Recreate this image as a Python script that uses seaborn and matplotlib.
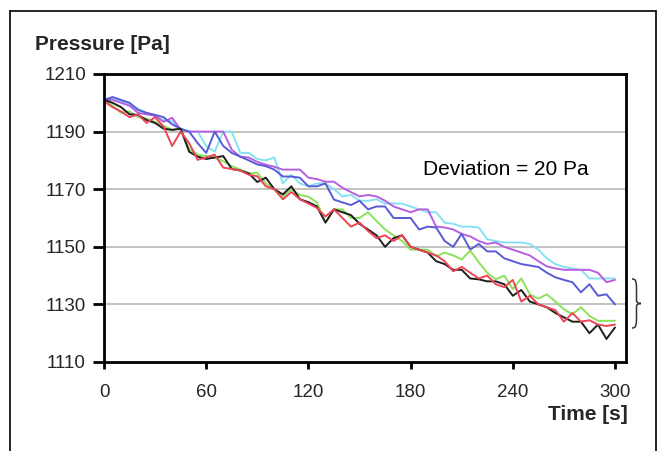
import matplotlib
matplotlib.use("Agg")
import matplotlib.pyplot as plt
import seaborn as sns
import pandas as pd
from matplotlib.lines import Line2D
from matplotlib.path import Path
from matplotlib.patches import PathPatch

sns.set_theme(style="white")
plt.rcParams['font.family'] = ['Liberation Sans', 'DejaVu Sans']

time_s = list(range(0, 301, 5))

cyan = [1201, 1201.5, 1200.5, 1199.5, 1198, 1196.5, 1195.5, 1194, 1193.5, 1191,
        1190, 1190, 1185, 1183, 1190, 1190, 1182.6, 1182.6, 1180.5, 1180,
        1181, 1172, 1175, 1172, 1171, 1172, 1172, 1170, 1167.5, 1168,
        1166, 1166, 1166.5, 1165, 1165, 1165, 1164, 1163, 1162, 1162,
        1158.4, 1158, 1157, 1157, 1156.7, 1152.6, 1152, 1151.5, 1151.5, 1151.5,
        1151, 1149, 1146, 1144, 1143, 1142.5, 1142, 1139, 1139, 1139,
        1139]
magenta = [1201, 1201, 1200, 1199, 1196.5, 1196, 1195.5, 1193.4, 1194.8, 1190.6,
           1190, 1190, 1190, 1190, 1190, 1183.7, 1181.3, 1181, 1179.5, 1178.5,
           1177.8, 1176.8, 1176.8, 1176.8, 1174, 1173.5, 1172.6, 1172.6, 1170.5, 1169,
           1167.5, 1168, 1167.5, 1166, 1164, 1163, 1162, 1163, 1163, 1157,
           1156.7, 1156, 1154.5, 1153.6, 1152, 1151, 1151.5, 1150, 1149, 1148,
           1147, 1145, 1143.2, 1142.5, 1142, 1142, 1142, 1142, 1141, 1137.7,
           1138.5]
blue = [1201, 1202, 1201, 1200, 1197.5, 1196.5, 1195.8, 1195, 1192.5, 1191,
        1190, 1186, 1182.6, 1190, 1185, 1182.6, 1181.3, 1180, 1178.6, 1178,
        1176.8, 1174.4, 1174.4, 1174, 1171, 1171, 1172, 1166.4, 1165.4, 1164.5,
        1166, 1163, 1164, 1164, 1160, 1160, 1160, 1156, 1157, 1156.7,
        1152, 1150, 1154.5, 1149, 1151, 1148.4, 1148.4, 1146, 1145, 1144,
        1143.5, 1143, 1141, 1139.4, 1138.5, 1137.7, 1134.2, 1137, 1133, 1133.5,
        1130]
green = [1201, 1199, 1196.5, 1197, 1195, 1194.5, 1193.4, 1192, 1190.6, 1191,
         1184, 1182, 1181.5, 1181, 1179.7, 1178, 1176.8, 1175.5, 1175.7, 1172,
         1170, 1167.4, 1170, 1168, 1167.4, 1165.4, 1158.4, 1163, 1163, 1160,
         1160, 1162, 1159, 1156, 1154, 1152, 1149, 1149, 1149, 1146.7,
         1148, 1147, 1145.6, 1148.7, 1144.6, 1141, 1138.7, 1140, 1135.3, 1139,
         1133.5, 1132, 1133.5, 1131, 1128.3, 1126.6, 1129, 1126, 1124.3, 1124.3,
         1124.3]
black = [1201, 1200, 1198.5, 1196, 1195.8, 1194, 1193, 1191, 1190.6, 1191,
         1183, 1181.3, 1180.5, 1181, 1181.5, 1177, 1176.5, 1175.5, 1172.5, 1174,
         1170, 1168.2, 1171, 1166.5, 1165.5, 1164, 1158.4, 1163, 1162, 1161,
         1158, 1156, 1154, 1150, 1153, 1154, 1150, 1149, 1148, 1145,
         1144, 1142, 1142, 1139, 1138.7, 1138, 1138, 1137, 1133, 1135,
         1131, 1130, 1129, 1127, 1125.5, 1124, 1124, 1120, 1123, 1118,
         1122]
red = [1200.5, 1198.5, 1197, 1195, 1196, 1193, 1195, 1191.7, 1185, 1190,
       1186, 1180.2, 1181, 1182, 1177.5, 1177, 1176.5, 1175, 1174.5, 1171,
       1170, 1166.5, 1169, 1166.5, 1165, 1163.5, 1160.5, 1163, 1160, 1157,
       1158.4, 1155.5, 1153, 1154, 1152, 1154, 1150, 1149, 1148, 1147,
       1145, 1141.5, 1143, 1141, 1139, 1140, 1137, 1136, 1138.5, 1131,
       1133, 1130, 1129, 1128, 1124, 1127, 1124, 1124.5, 1123, 1122.5,
       1123]

series_names = ["cyan", "magenta", "blue", "green", "black", "red"]
series_values = [cyan, magenta, blue, green, black, red]
series_colors = ["#86E2F2", "#B85FE0", "#5A5AD8", "#8AE25A", "#1E1E1E", "#EE4458"]

x_ticks = [0, 60, 120, 180, 240, 300]
y_ticks = [1110, 1130, 1150, 1170, 1190, 1210]

rows = []
for name, vals in zip(series_names, series_values):
    for t, v in zip(time_s, vals):
        rows.append({"time": t, "pressure": v, "run": name})
df = pd.DataFrame(rows)

W, H = 664, 451
fig = plt.figure(figsize=(W / 100, H / 100), dpi=100)
ax = fig.add_axes([104 / W, 1 - 362 / H, (626 - 104) / W, (362 - 74) / H])

for yv in y_ticks[1:-1]:
    ax.axhline(yv, color="#BDBDBD", lw=1.3, zorder=0)

sns.lineplot(data=df, x="time", y="pressure", hue="run", hue_order=series_names,
             palette=dict(zip(series_names, series_colors)), ax=ax,
             legend=False, linewidth=1.4, estimator=None, sort=False)

ax.set_xlim(0, 300 * 522 / 511)
ax.set_ylim(1110, 1210)
ax.set_xticks(x_ticks)
ax.set_yticks(y_ticks)
ax.set_xticklabels([str(v) for v in x_ticks])
ax.set_yticklabels([str(v) for v in y_ticks])
ax.set_xlabel("")
ax.set_ylabel("")
ax.grid(False)
for sp in ax.spines.values():
    sp.set_visible(True)
    sp.set_color("black")
    sp.set_linewidth(2.0)
ax.tick_params(axis="x", direction="out", length=5, width=2, color="black",
               labelsize=13.5, pad=11, bottom=True)
ax.tick_params(axis="y", direction="out", length=8, width=2, color="black",
               labelsize=13.5, pad=5, left=True)

ax.text(236, 1176.8, "Deviation = 20 Pa", fontsize=15, ha="center", va="center",
        color="black")

# curly brace to the right of the plot (pixel coordinates -> figure fraction)
def fx(px):
    return px / W

def fy(py):
    return 1 - py / H

top, mid, bot = 279, 303.5, 328
xl, xm, xt = 632, 636.5, 641
verts = [
    (fx(xl), fy(top)),
    (fx(xm), fy(top)), (fx(xm - 0.5), fy(top + 3)), (fx(xm), fy(top + 8)),
    (fx(xm), fy(mid - 3)),
    (fx(xm), fy(mid - 1)), (fx(xm + 2), fy(mid)), (fx(xt), fy(mid)),
    (fx(xm + 2), fy(mid)), (fx(xm), fy(mid + 1)), (fx(xm), fy(mid + 3)),
    (fx(xm), fy(bot - 8)),
    (fx(xm - 0.5), fy(bot - 3)), (fx(xm), fy(bot)), (fx(xl), fy(bot)),
]
codes = [Path.MOVETO,
         Path.CURVE4, Path.CURVE4, Path.CURVE4,
         Path.LINETO,
         Path.CURVE4, Path.CURVE4, Path.CURVE4,
         Path.CURVE4, Path.CURVE4, Path.CURVE4,
         Path.LINETO,
         Path.CURVE4, Path.CURVE4, Path.CURVE4]
brace = PathPatch(Path(verts, codes), transform=fig.transFigure, fill=False,
                  edgecolor="#333333", lw=1.1)
fig.add_artist(brace)

fig.text(35 / W, 1 - 45 / H, "Pressure [Pa]", fontsize=15, fontweight="bold",
         ha="left", va="center")
fig.text(628 / W, 1 - 415 / H, "Time [s]", fontsize=15, fontweight="bold",
         ha="right", va="center")

frame_color = "black"
fig.add_artist(Line2D([10 / W, 10 / W], [0, 1 - 11 / H], transform=fig.transFigure,
                      color=frame_color, lw=1.2))
fig.add_artist(Line2D([10 / W, 656 / W], [1 - 11 / H, 1 - 11 / H],
                      transform=fig.transFigure, color=frame_color, lw=1.2))
fig.add_artist(Line2D([656 / W, 656 / W], [0, 1 - 11 / H], transform=fig.transFigure,
                      color=frame_color, lw=1.2))

fig.savefig("out.png", dpi=100)
